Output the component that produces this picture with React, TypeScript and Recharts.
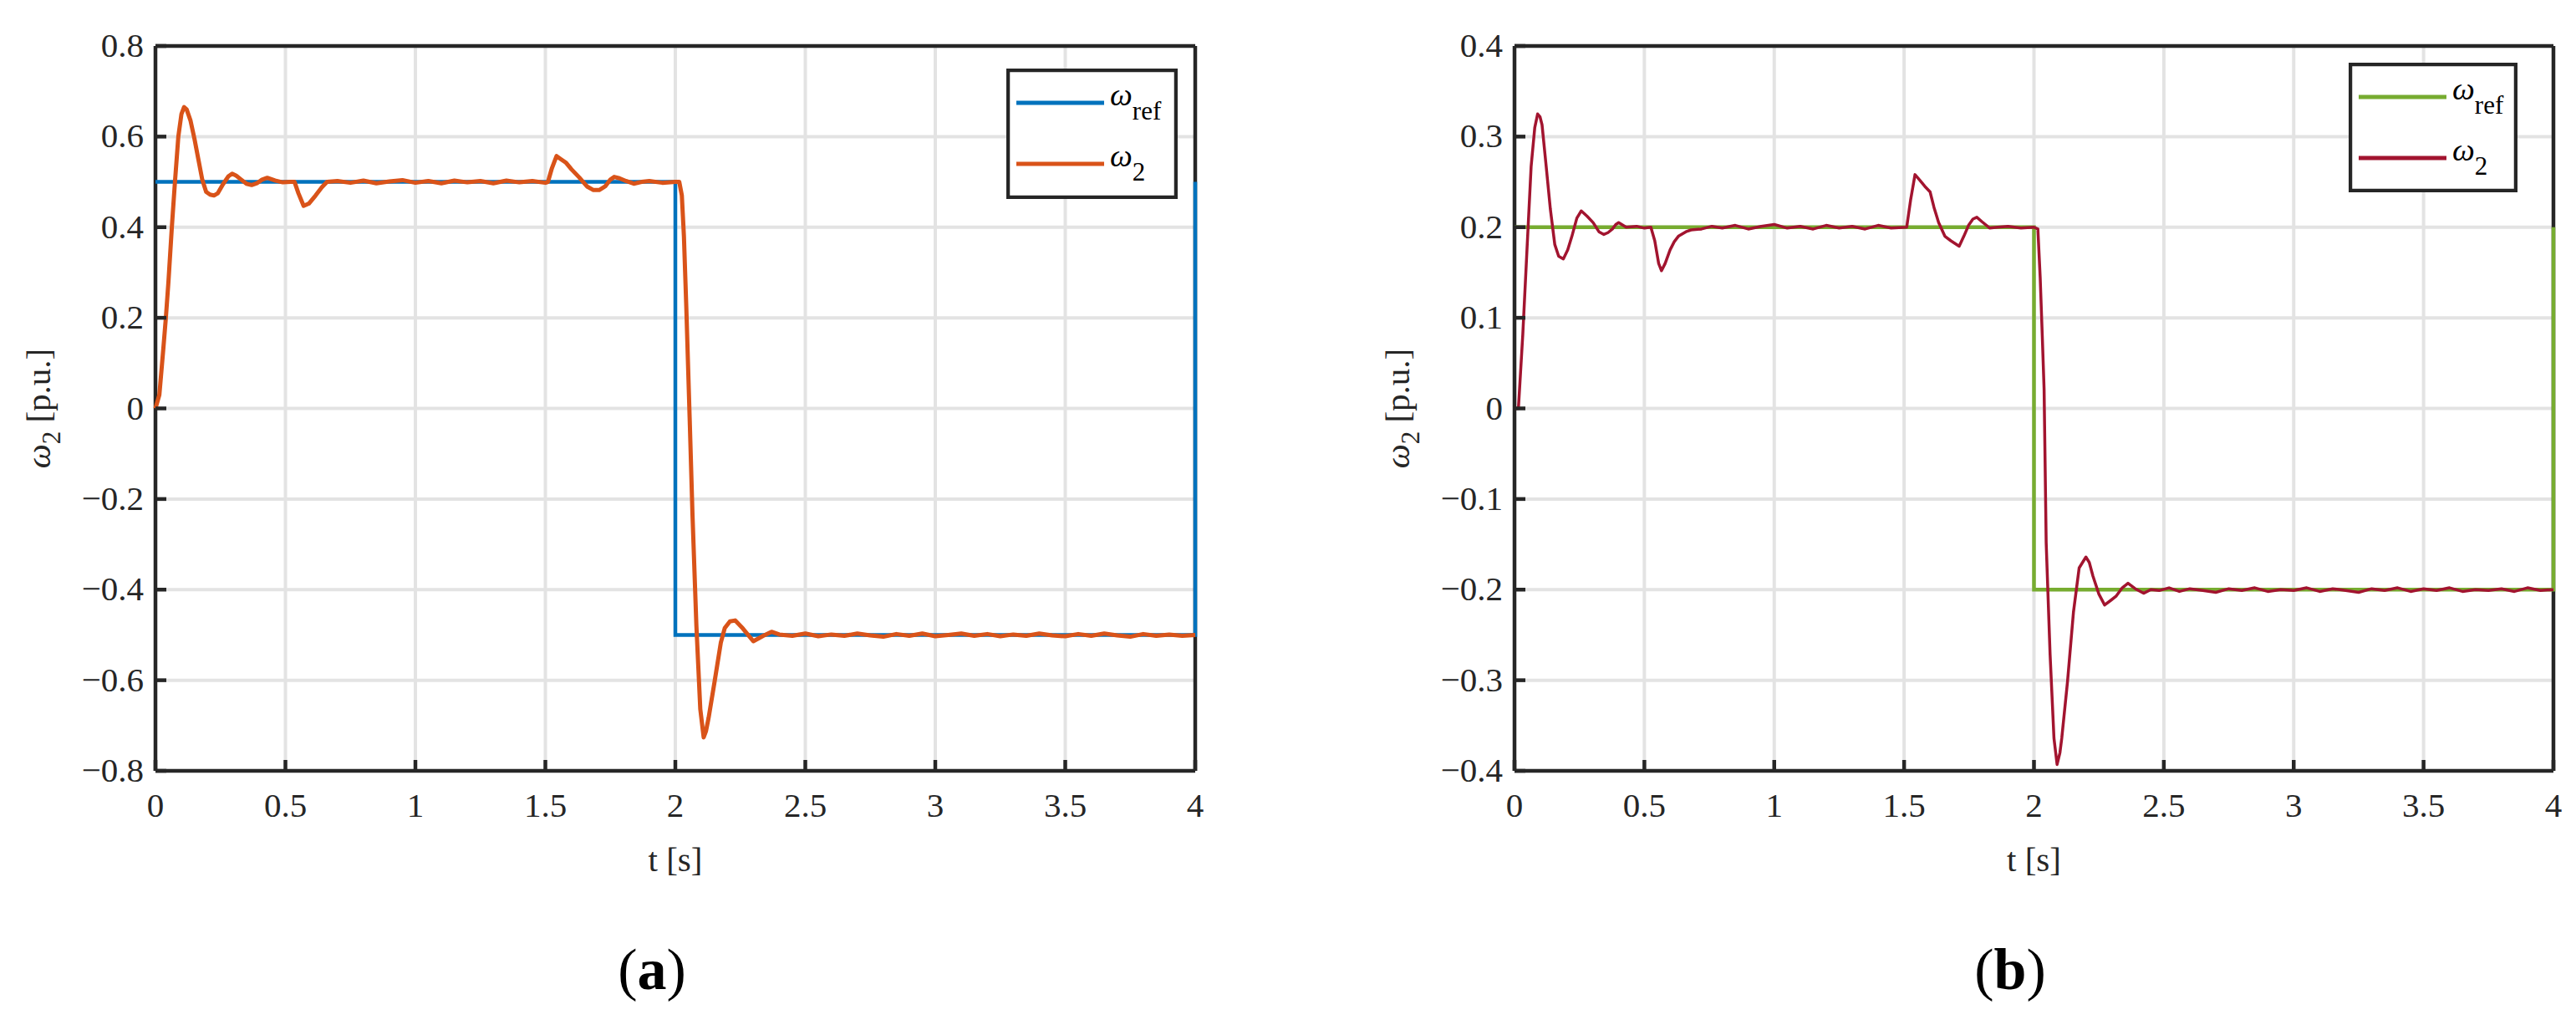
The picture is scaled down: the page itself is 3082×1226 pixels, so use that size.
import React from "react";
import { LineChart, Line, XAxis, YAxis, CartesianGrid, Legend } from "recharts";

const INK = "#262626";
const GRID = "#e3e3e3";
const FONT = '"Liberation Serif", "Times New Roman", Times, serif';
const TICK_LEN = 13;

const T_TICKS = [0, 0.5, 1, 1.5, 2, 2.5, 3, 3.5, 4];
const Y_TICKS_A = [-0.8, -0.6, -0.4, -0.2, 0, 0.2, 0.4, 0.6, 0.8];
const Y_TICKS_B = [-0.4, -0.3, -0.2, -0.1, 0, 0.1, 0.2, 0.3, 0.4];

// (a) reference and measured speed
const refTimeA = [0, 2, 2, 4, 4];
const refValA = [0.5, 0.5, -0.5, -0.5, 0.5];

const w2TimeA = [
  0, 0.015, 0.03, 0.04, 0.05, 0.063, 0.075, 0.088, 0.1, 0.11, 0.12, 0.135, 0.15, 0.165, 0.18, 0.195,
  0.21, 0.225, 0.24, 0.26, 0.28, 0.295, 0.31, 0.33, 0.35, 0.37, 0.39, 0.41, 0.43, 0.46, 0.49, 0.52,
  0.535, 0.55, 0.57, 0.59, 0.616, 0.64, 0.66,
  0.7, 0.75, 0.8, 0.85, 0.9, 0.95, 1.0, 1.05, 1.1, 1.15, 1.2, 1.25, 1.3, 1.35, 1.4, 1.45, 1.5,
  1.51, 1.525, 1.543, 1.56, 1.58, 1.6, 1.63, 1.66, 1.685, 1.707, 1.73, 1.75, 1.765, 1.785, 1.81,
  1.84, 1.87, 1.9, 1.95, 2.0, 2.015,
  2.025, 2.033, 2.042, 2.055, 2.066, 2.081, 2.096, 2.109, 2.118, 2.128, 2.151, 2.175, 2.19, 2.21,
  2.23, 2.26, 2.3, 2.338, 2.37, 2.4,
  2.45, 2.5, 2.55, 2.6, 2.65, 2.7, 2.75, 2.8, 2.85, 2.9, 2.95, 3.0, 3.05, 3.1, 3.15, 3.2, 3.25, 3.3,
  3.35, 3.4, 3.45, 3.5, 3.55, 3.6, 3.65, 3.7, 3.75, 3.8, 3.85, 3.9, 3.95, 4.0,
];
const w2ValA = [
  0, 0.03, 0.13, 0.2, 0.28, 0.4, 0.5, 0.6, 0.65, 0.665, 0.66, 0.635, 0.595, 0.55, 0.505, 0.478,
  0.472, 0.47, 0.475, 0.495, 0.512, 0.518, 0.514, 0.505, 0.496, 0.493, 0.497, 0.505, 0.509, 0.503, 0.499, 0.5,
  0.5, 0.475, 0.447, 0.452, 0.47, 0.488, 0.5,
  0.502, 0.498, 0.503, 0.497, 0.501, 0.504, 0.498, 0.502, 0.497, 0.503, 0.499, 0.502, 0.497, 0.503, 0.499, 0.502, 0.498,
  0.5, 0.53, 0.557, 0.55, 0.542, 0.528, 0.51, 0.49, 0.482, 0.482, 0.49, 0.505, 0.511, 0.508, 0.502,
  0.496, 0.5, 0.502, 0.498, 0.5, 0.5,
  0.47, 0.38, 0.226, -0.02, -0.235, -0.48, -0.664, -0.726, -0.712, -0.683, -0.603, -0.517, -0.485, -0.47,
  -0.468, -0.486, -0.514, -0.502, -0.493, -0.499,
  -0.502, -0.497, -0.503, -0.499, -0.502, -0.497, -0.501, -0.504, -0.498, -0.502, -0.497, -0.503, -0.5, -0.497, -0.502, -0.498, -0.503, -0.499,
  -0.502, -0.497, -0.501, -0.503, -0.498, -0.502, -0.497, -0.501, -0.504, -0.498, -0.502, -0.499, -0.502, -0.5,
];

// (b) reference and measured speed
const refTimeB = [0, 2, 2, 4, 4];
const refValB = [0.2, 0.2, -0.2, -0.2, 0.2];

const w2TimeB = [
  0, 0.015, 0.032, 0.048, 0.064, 0.078, 0.089, 0.098, 0.106, 0.122,
  0.138, 0.155, 0.17, 0.188, 0.205, 0.221, 0.24, 0.257, 0.28, 0.303,
  0.325, 0.344, 0.36, 0.377, 0.39, 0.401, 0.43, 0.47, 0.5, 0.525,
  0.54, 0.555, 0.566, 0.58, 0.599, 0.615, 0.631, 0.66, 0.68, 0.72,
  0.76, 0.8, 0.85, 0.9, 0.95, 1.0, 1.05, 1.1, 1.15, 1.2,
  1.25, 1.3, 1.35, 1.4, 1.45, 1.51,
  1.525, 1.542, 1.56, 1.58, 1.6, 1.615, 1.633, 1.657, 1.68, 1.712,
  1.73, 1.748, 1.765, 1.78, 1.8, 1.83, 1.86, 1.9, 1.95, 2.0,
  2.015, 2.024, 2.032, 2.039, 2.047, 2.062, 2.077, 2.089, 2.1, 2.107,
  2.129, 2.152, 2.174, 2.2, 2.213, 2.227, 2.25, 2.272, 2.295, 2.317,
  2.34, 2.362, 2.39, 2.422, 2.45, 2.482,
  2.52, 2.56, 2.6, 2.65, 2.7, 2.75, 2.8, 2.85, 2.9, 2.95,
  3.0, 3.05, 3.1, 3.15, 3.2, 3.25, 3.3, 3.35, 3.4, 3.45,
  3.5, 3.55, 3.6, 3.65, 3.7, 3.75, 3.8, 3.85, 3.9, 3.95, 4.0,
];
const w2ValB = [
  0, 0, 0.082, 0.175, 0.267, 0.31, 0.325, 0.322, 0.313, 0.267,
  0.22, 0.181, 0.168, 0.165, 0.175, 0.19, 0.21, 0.218, 0.212, 0.205,
  0.195, 0.192, 0.194, 0.198, 0.203, 0.205, 0.2, 0.201, 0.199, 0.2,
  0.185, 0.16, 0.152, 0.16, 0.175, 0.184, 0.19, 0.195, 0.197, 0.198,
  0.201, 0.199, 0.202, 0.198, 0.201, 0.203, 0.199, 0.201, 0.198, 0.202,
  0.199, 0.201, 0.198, 0.202, 0.199, 0.2,
  0.23, 0.258, 0.252, 0.245, 0.239, 0.222, 0.205, 0.19, 0.185, 0.179,
  0.19, 0.202, 0.209, 0.211, 0.206, 0.199, 0.2, 0.201, 0.199, 0.2,
  0.198, 0.144, 0.08, 0.021, -0.148, -0.271, -0.364, -0.393, -0.38, -0.364,
  -0.302, -0.225, -0.176, -0.164, -0.17, -0.185, -0.205, -0.217, -0.212, -0.207,
  -0.198, -0.193, -0.199, -0.204, -0.2, -0.201,
  -0.198, -0.202, -0.199, -0.201, -0.203, -0.199, -0.201, -0.198, -0.202, -0.2,
  -0.201, -0.198, -0.202, -0.199, -0.201, -0.203, -0.199, -0.201, -0.198, -0.202,
  -0.199, -0.201, -0.198, -0.202, -0.2, -0.201, -0.199, -0.202, -0.198, -0.201, -0.2,
];

const pts = (ts: number[], vs: number[]) => ts.map((t, i) => ({ t, v: vs[i] }));
const fmt = (v: number) => String(v).replace("-", "\u2212");

function BottomTick({ x, y, payload }: any) {
  return (
    <g>
      <line x1={x} y1={y} x2={x} y2={y - TICK_LEN} stroke={INK} strokeWidth={4.5} />
      <text x={x} y={y + 55} textAnchor="middle" fill={INK} fontSize={41} fontFamily={FONT}>
        {fmt(payload.value)}
      </text>
    </g>
  );
}

function TopTick({ x, y }: any) {
  return <line x1={x} y1={y} x2={x} y2={y + TICK_LEN} stroke={INK} strokeWidth={4.5} />;
}

function LeftTick({ x, y, payload }: any) {
  return (
    <g>
      <line x1={x} y1={y} x2={x + TICK_LEN} y2={y} stroke={INK} strokeWidth={4.5} />
      <text x={x - 14} y={y} dy="0.32em" textAnchor="end" fill={INK} fontSize={41} fontFamily={FONT}>
        {fmt(payload.value)}
      </text>
    </g>
  );
}

function RightTick({ x, y }: any) {
  return <line x1={x - TICK_LEN} y1={y} x2={x} y2={y} stroke={INK} strokeWidth={4.5} />;
}

function LegendBox({ w, h, refColor, w2Color }: any) {
  const rows = [
    { y: 41, color: refColor, sub: "ref" },
    { y: 114, color: w2Color, sub: "2" },
  ];
  return (
    <svg width={w} height={h} style={{ display: "block" }}>
      <rect x={2} y={2} width={w - 4} height={h - 4} fill="#fff" stroke={INK} strokeWidth={4.5} />
      {rows.map((r) => (
        <g key={r.sub}>
          <line x1={12} x2={117} y1={r.y} y2={r.y} stroke={r.color} strokeWidth={5} />
          <text x={124} y={r.y + 3} fill="#000" fontFamily={FONT} fontSize={38}>
            <tspan fontStyle="italic">ω</tspan>
            <tspan dy={17} fontSize={31}>{r.sub}</tspan>
          </text>
        </g>
      ))}
    </svg>
  );
}

type PanelProps = {
  left: number;
  width: number;
  plotLeft: number;
  plotRight: number;
  yTicks: number[];
  yDomain: [number, number];
  refData: { t: number; v: number }[];
  w2Data: { t: number; v: number }[];
  refColor: string;
  w2Color: string;
  w2Width: number;
  legendX: number;
  legendY: number;
  legendW: number;
  legendH: number;
  caption: string;
  captionX: number;
};

function Panel(p: PanelProps) {
  const axisLine = { stroke: INK, strokeWidth: 4.5 };
  return (
    <div style={{ position: "absolute", left: p.left, top: 0 }}>
      <LineChart
        width={p.width}
        height={1226}
        margin={{ top: 45, bottom: 274, left: p.plotLeft - 80, right: p.width - p.plotRight - 10 }}
      >
        <CartesianGrid stroke={GRID} strokeWidth={4} />
        <XAxis
          dataKey="t"
          type="number"
          domain={[0, 4]}
          ticks={T_TICKS}
          interval={0}
          height={30}
          tickSize={0}
          tickMargin={0}
          tickLine={false}
          axisLine={axisLine}
          tick={(props: any) => <BottomTick {...props} />}
          label={{
            content: ({ viewBox }: any) => (
              <text
                x={viewBox.x + viewBox.width / 2}
                y={1042}
                textAnchor="middle"
                fill={INK}
                fontSize={41}
                fontFamily={FONT}
              >
                t [s]
              </text>
            ),
          }}
        />
        <XAxis
          xAxisId="top"
          orientation="top"
          dataKey="t"
          type="number"
          domain={[0, 4]}
          ticks={T_TICKS}
          interval={0}
          height={10}
          tickSize={0}
          tickMargin={0}
          tickLine={false}
          axisLine={axisLine}
          tick={(props: any) => <TopTick {...props} />}
        />
        <YAxis
          type="number"
          domain={p.yDomain}
          ticks={p.yTicks}
          interval={0}
          width={80}
          tickSize={0}
          tickMargin={0}
          tickLine={false}
          axisLine={axisLine}
          tick={(props: any) => <LeftTick {...props} />}
          label={{
            content: ({ viewBox }: any) => {
              const bx = viewBox.x + viewBox.width - 126;
              const cy = viewBox.y + viewBox.height / 2;
              return (
                <text
                  x={bx}
                  y={cy}
                  transform={`rotate(-90, ${bx}, ${cy})`}
                  textAnchor="middle"
                  fill={INK}
                  fontSize={41}
                  fontFamily={FONT}
                >
                  <tspan fontStyle="italic">ω</tspan>
                  <tspan dy={12} fontSize={31}>2</tspan>
                  <tspan dy={-12}> [p.u.]</tspan>
                </text>
              );
            },
          }}
        />
        <YAxis
          yAxisId="right"
          orientation="right"
          type="number"
          domain={p.yDomain}
          ticks={p.yTicks}
          interval={0}
          width={10}
          tickSize={0}
          tickMargin={0}
          tickLine={false}
          axisLine={axisLine}
          tick={(props: any) => <RightTick {...props} />}
        />
        <Line
          data={p.refData}
          dataKey="v"
          type="linear"
          stroke={p.refColor}
          strokeWidth={4.5}
          dot={false}
          activeDot={false}
          zIndex={600}
          isAnimationActive={false}
        />
        <Line
          data={p.w2Data}
          dataKey="v"
          type="linear"
          stroke={p.w2Color}
          strokeWidth={p.w2Width}
          strokeLinejoin="round"
          dot={false}
          activeDot={false}
          zIndex={610}
          isAnimationActive={false}
        />
        <Legend
          layout="vertical"
          align="center"
          verticalAlign="middle"
          wrapperStyle={{ left: p.legendX, top: p.legendY, width: p.legendW, height: p.legendH }}
          content={() => <LegendBox w={p.legendW} h={p.legendH} refColor={p.refColor} w2Color={p.w2Color} />}
        />
      </LineChart>
      <svg
        width={p.width}
        height={100}
        style={{ position: "absolute", left: 0, top: 1110 }}
      >
        <text x={p.captionX} y={73} textAnchor="middle" fill="#000" fontSize={70} fontFamily={FONT}>
          (<tspan fontWeight="bold">{p.caption}</tspan>)
        </text>
      </svg>
    </div>
  );
}

export default function App() {
  return (
    <div
      style={{
        position: "absolute",
        left: 0,
        top: 0,
        width: 3082,
        height: 1226,
        background: "#fff",
        overflow: "hidden",
      }}
    >
      <Panel
        left={0}
        width={1560}
        plotLeft={186}
        plotRight={1430}
        yTicks={Y_TICKS_A}
        yDomain={[-0.8, 0.8]}
        refData={pts(refTimeA, refValA)}
        w2Data={pts(w2TimeA, w2ValA)}
        refColor="#0072BD"
        w2Color="#D95319"
        w2Width={5}
        legendX={1204}
        legendY={82}
        legendW={205}
        legendH={156}
        caption="a"
        captionX={780}
      />
      <Panel
        left={1560}
        width={1522}
        plotLeft={252}
        plotRight={1495}
        yTicks={Y_TICKS_B}
        yDomain={[-0.4, 0.4]}
        refData={pts(refTimeB, refValB)}
        w2Data={pts(w2TimeB, w2ValB)}
        refColor="#77AC30"
        w2Color="#A2142F"
        w2Width={3.5}
        legendX={1250}
        legendY={75}
        legendW={202}
        legendH={155}
        caption="b"
        captionX={845}
      />
    </div>
  );
}
